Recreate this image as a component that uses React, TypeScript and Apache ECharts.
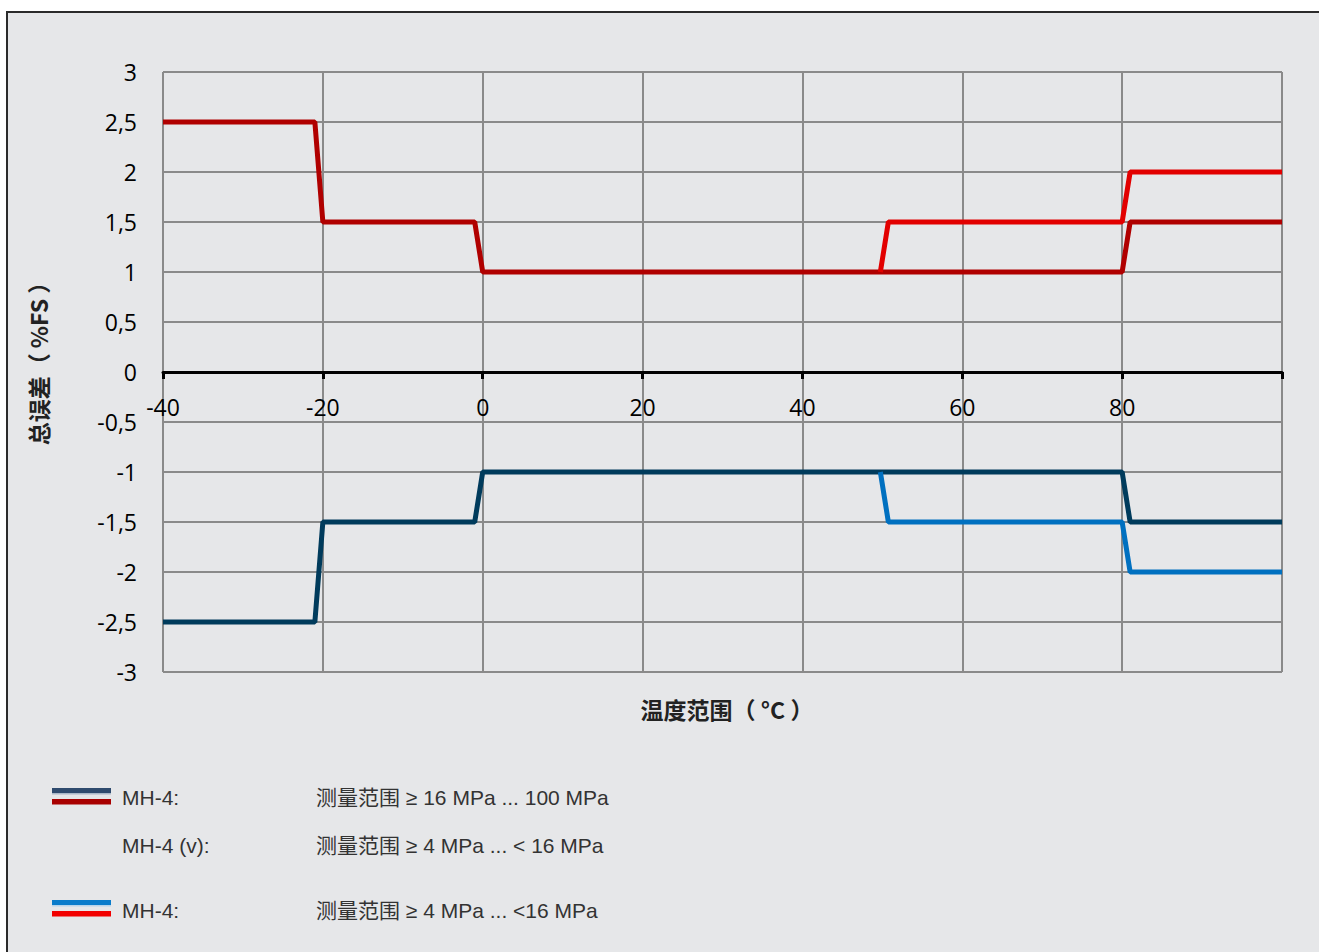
import React, { useEffect, useRef } from "react";
import * as echarts from "echarts";

// ---- data ----
const darkRedTemps = [-40, -21, -20, -1, 0, 80, 81, 100];
const darkRedValues = [2.5, 2.5, 1.5, 1.5, 1, 1, 1.5, 1.5];
const brightRedTemps = [49.75, 50.75, 80, 81, 100];
const brightRedValues = [1, 1.5, 1.5, 2, 2];
const navyTemps = [-40, -21, -20, -1, 0, 80, 81, 100];
const navyValues = [-2.5, -2.5, -1.5, -1.5, -1, -1, -1.5, -1.5];
const lightBlueTemps = [49.75, 50.75, 80, 81, 100];
const lightBlueValues = [-1, -1.5, -1.5, -2, -2];

const xName = "温度范围（ °C ）";
const yName = "总误差（ %FS ）";

const legendRows = [
  { label: "MH-4:", desc: "测量范围 ≥ 16 MPa ... 100 MPa" },
  { label: "MH-4 (v):", desc: "测量范围 ≥ 4 MPa ... < 16 MPa" },
  { label: "MH-4:", desc: "测量范围 ≥ 4 MPa ... <16 MPa" },
];

const pairs = (xs: number[], ys: number[]) => xs.map((x, i) => [x, ys[i]]);

export default function App() {
  const ref = useRef<HTMLDivElement>(null);
  useEffect(() => {
    if (!ref.current) return;
    const chart = echarts.init(ref.current, null, { renderer: "svg" });
    const tickFont = { fontFamily: "Open Sans", fontSize: 23, color: "#000" };
    const legendFont = "21px 'Liberation Sans', 'Noto Sans CJK SC', sans-serif";
    const legendYs = [797, 845, 910];
    chart.setOption({
      animation: false,
      backgroundColor: "transparent",
      grid: {
        left: 163,
        top: 72,
        width: 1119,
        height: 600,
        containLabel: false,
        outerBoundsMode: "none",
      },
      xAxis: {
        type: "value",
        min: -40,
        max: 100,
        interval: 20,
        position: "bottom",
        offset: -300,
        axisLine: { show: true, onZero: false, lineStyle: { color: "#000", width: 3 } },
        axisTick: { show: true, length: 7, lineStyle: { color: "#000", width: 3 } },
        axisLabel: {
          ...tickFont,
          margin: 23,
          formatter: (v: number) => (v === 100 ? "" : String(v)),
        },
        splitLine: { show: true, lineStyle: { color: "#8a8a8a", width: 2 } },
      },
      yAxis: {
        type: "value",
        min: -3,
        max: 3,
        interval: 0.5,
        axisLine: { show: false },
        axisTick: { show: false },
        axisLabel: {
          ...tickFont,
          margin: 26,
          formatter: (v: number) => String(v).replace(".", ","),
        },
        splitLine: { show: true, lineStyle: { color: "#8a8a8a", width: 2 } },
      },
      series: [
        {
          type: "line",
          data: pairs(darkRedTemps, darkRedValues),
          showSymbol: false,
          lineStyle: { color: "#b00000", width: 5 },
          z: 3,
        },
        {
          type: "line",
          data: pairs(brightRedTemps, brightRedValues),
          showSymbol: false,
          lineStyle: { color: "#e20000", width: 5 },
          z: 4,
        },
        {
          type: "line",
          data: pairs(navyTemps, navyValues),
          showSymbol: false,
          lineStyle: { color: "#003b5c", width: 5 },
          z: 3,
        },
        {
          type: "line",
          data: pairs(lightBlueTemps, lightBlueValues),
          showSymbol: false,
          lineStyle: { color: "#0070c0", width: 5 },
          z: 4,
        },
      ],
      graphic: [
        {
          type: "text",
          x: 727,
          y: 709,
          style: {
            text: xName,
            font: "bold 23px 'Noto Sans CJK SC', sans-serif",
            fill: "#222",
            textAlign: "center",
            textVerticalAlign: "middle",
          },
        },
        {
          type: "text",
          x: 38,
          y: 358,
          rotation: Math.PI / 2,
          style: {
            text: yName,
            font: "bold 23px 'Noto Sans CJK SC', sans-serif",
            fill: "#222",
            textAlign: "center",
            textVerticalAlign: "middle",
          },
        },
        // legend swatches
        { type: "rect", shape: { x: 52, y: 788, width: 59, height: 5 }, style: { fill: "#2f4b6e" } },
        { type: "rect", shape: { x: 52, y: 793, width: 59, height: 1.5 }, style: { fill: "#aab8c8" } },
        { type: "rect", shape: { x: 52, y: 799, width: 59, height: 5.5 }, style: { fill: "#a80000" } },
        { type: "rect", shape: { x: 52, y: 900, width: 59, height: 5 }, style: { fill: "#0a7ccb" } },
        { type: "rect", shape: { x: 52, y: 905, width: 59, height: 1.5 }, style: { fill: "#b8d4ea" } },
        { type: "rect", shape: { x: 52, y: 911, width: 59, height: 5.5 }, style: { fill: "#f20000" } },
        ...legendRows.flatMap((r, i) => [
          {
            type: "text",
            x: 122,
            y: legendYs[i],
            style: { text: r.label, font: legendFont, fill: "#333", textVerticalAlign: "middle" },
          },
          {
            type: "text",
            x: 316,
            y: legendYs[i],
            style: { text: r.desc, font: legendFont, fill: "#333", textVerticalAlign: "middle" },
          },
        ]),
      ],
    });
    return () => chart.dispose();
  }, []);

  return (
    <div style={{ position: "fixed", left: 0, top: 0, width: 1319, height: 952, background: "#fff", overflow: "hidden" }}>
      <div
        style={{
          position: "absolute",
          left: 6,
          top: 11,
          width: 1400,
          height: 1000,
          border: "2px solid #2b2b2b",
          background: "#e6e7e9",
        }}
      />
      <div ref={ref} style={{ position: "absolute", left: 0, top: 0, width: 1319, height: 952 }} />
    </div>
  );
}
